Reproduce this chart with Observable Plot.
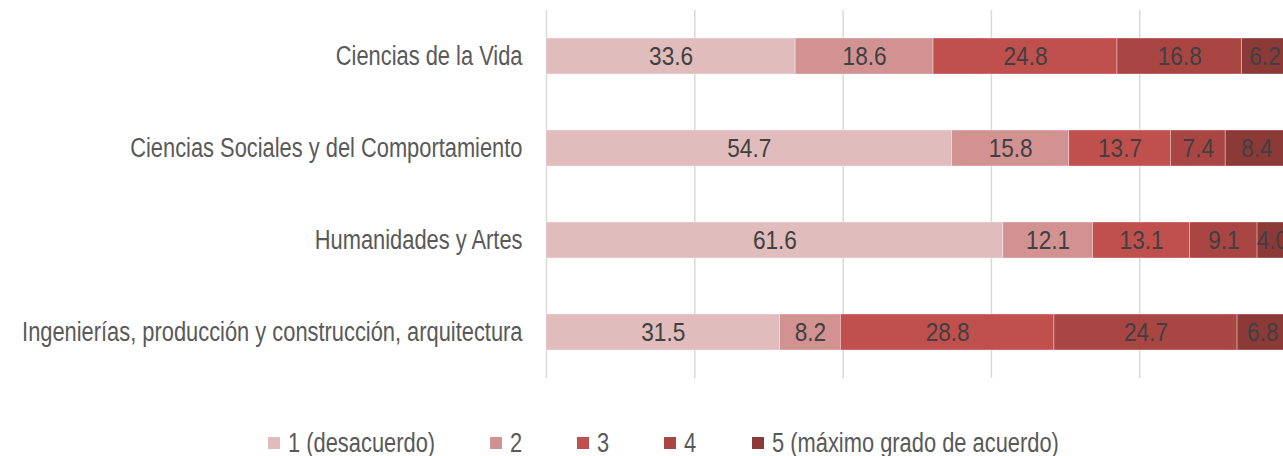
<!DOCTYPE html>
<html>
<head>
<meta charset="utf-8">
<script src="https://cdn.jsdelivr.net/npm/d3@7"></script>
<script src="https://cdn.jsdelivr.net/npm/@observablehq/plot@0.6"></script>
<style>
  html, body { margin: 0; padding: 0; background: #fff; overflow: hidden; }
  body { width: 1283px; height: 456px; font-family: "Liberation Sans", Arial, sans-serif; }
  #chart svg { display: block; }
  #legend { display: flex; align-items: center; height: 46px; padding-left: 268px; font-size: 27px; color: #595959; }
  .item { display: flex; align-items: center; margin-right: 55px; }
  .sw { width: 12px; height: 12px; margin-right: 8px; flex: none; }
  .tw { display: inline-block; overflow: visible; white-space: nowrap; }
  .tx { display: inline-block; transform: scaleX(0.81); transform-origin: 0 50%; white-space: nowrap; }
</style>
</head>
<body>
<div id="chart"></div>
<div id="legend"></div>
<script>
const categories = [
  "Ciencias de la Vida",
  "Ciencias Sociales y del Comportamiento",
  "Humanidades y Artes",
  "Ingenierías, producción y construcción, arquitectura"
];
const levels = ["1 (desacuerdo)", "2", "3", "4", "5 (máximo grado de acuerdo)"];
const level1 = [33.6, 54.7, 61.6, 31.5];
const level2 = [18.6, 15.8, 12.1, 8.2];
const level3 = [24.8, 13.7, 13.1, 28.8];
const level4 = [16.8, 7.4, 9.1, 24.7];
const level5 = [6.2, 8.4, 4.0, 6.8];
const colors = ["#e0bcbc", "#d29292", "#c0504d", "#a94644", "#8c3a38"];
const gridTicks = [0, 20, 40, 60, 80, 100];

const series = [level1, level2, level3, level4, level5];
const data = [];
categories.forEach((c, i) => {
  series.forEach((s, j) => data.push({category: c, level: levels[j], order: j, value: s[i]}));
});

const font = '"Liberation Sans", Arial, sans-serif';

const chart = Plot.plot({
  width: 1283,
  height: 420,
  marginTop: 10,
  marginBottom: 42,
  marginLeft: 546,
  marginRight: 0,
  style: {fontFamily: font, fontSize: "27px", background: "#fff"},
  x: {domain: [0, 100], range: [546, 1287.5], axis: null},
  y: {domain: categories, paddingInner: 0.6087, paddingOuter: 0.3043, label: null, tickSize: 0, tickPadding: 24},
  color: {domain: levels, range: colors},
  marks: [
    Plot.ruleX(gridTicks, {stroke: "#d9d9d9", strokeWidth: 1.5}),
    Plot.barX(data, Plot.stackX({x: "value", y: "category", fill: "level", order: "order", stroke: "#fff", strokeWidth: 0.75, strokeOpacity: 0.45})),
    Plot.text(data, Plot.stackX({x: "value", y: "category", order: "order", text: d => d.value.toFixed(1), fill: "#404040", fontSize: 26})),
    Plot.axisY({tickSize: 0, tickPadding: 24, color: "#595959", fontSize: 27, label: null})
  ]
});
document.getElementById("chart").appendChild(chart);

// Narrow the glyphs horizontally around each text's anchor (condensed look)
function narrowTexts(selector, k) {
  chart.querySelectorAll(selector).forEach(t => {
    const tr = t.getAttribute("transform") || "";
    t.setAttribute("transform", `${tr} scale(${k},1)`);
  });
}
narrowTexts('g[aria-label="text"] text', 0.87);
narrowTexts('g[aria-label="y-axis tick label"] text', 0.81);

const legend = document.getElementById("legend");
levels.forEach((l, i) => {
  const item = document.createElement("div");
  item.className = "item";
  const sw = document.createElement("span");
  sw.className = "sw";
  sw.style.background = colors[i];
  const tw = document.createElement("span");
  tw.className = "tw";
  const t = document.createElement("span");
  t.className = "tx";
  t.textContent = l;
  tw.appendChild(t);
  item.appendChild(sw);
  item.appendChild(tw);
  legend.appendChild(item);
  tw.style.width = t.getBoundingClientRect().width + "px";
});
</script>
</body>
</html>
